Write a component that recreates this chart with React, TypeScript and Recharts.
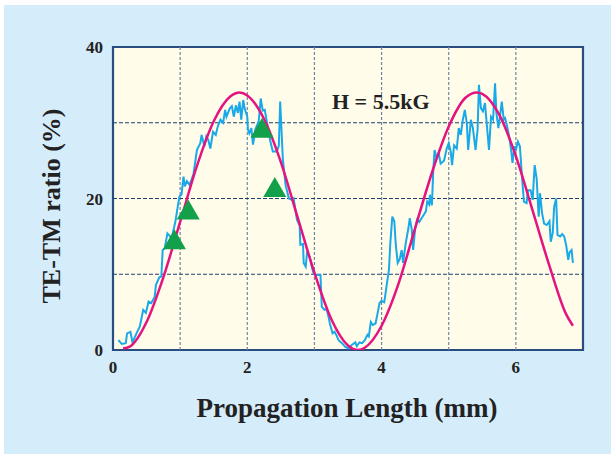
import { ComposedChart, Line, Scatter, XAxis, YAxis, ReferenceLine, ReferenceArea } from 'recharts'

// measured trace (cyan)
const measuredX = [
  0.08, 0.13, 0.19, 0.21, 0.26, 0.29, 0.35, 0.40, 0.45, 0.49, 0.53, 0.57, 0.62, 0.64, 0.69, 0.72, 0.74, 0.77, 0.81, 0.85,
  0.87, 0.93, 0.96, 0.99, 1.02, 1.05, 1.07, 1.10, 1.14, 1.17, 1.20, 1.25, 1.30, 1.32, 1.36, 1.39, 1.42, 1.45, 1.49, 1.53,
  1.56, 1.60, 1.64, 1.67, 1.69, 1.74, 1.77, 1.80, 1.83, 1.86, 1.885, 1.91, 1.94, 1.96, 2.00, 2.01, 2.03, 2.06, 2.085, 2.12,
  2.17, 2.20, 2.23, 2.26, 2.29, 2.34, 2.38, 2.44, 2.47, 2.49, 2.53, 2.57, 2.62, 2.67, 2.69, 2.74, 2.78, 2.79, 2.83, 2.84,
  2.87, 2.89, 2.93, 2.96, 2.99, 3.04, 3.09, 3.11, 3.15, 3.18, 3.21, 3.23, 3.27, 3.30, 3.33, 3.36, 3.41, 3.46, 3.51, 3.56,
  3.61, 3.63, 3.67, 3.71, 3.75, 3.79, 3.81, 3.84, 3.87, 3.91, 3.94, 3.97, 4.00, 4.04, 4.08, 4.11, 4.13, 4.16, 4.19, 4.21,
  4.24, 4.27, 4.30, 4.32, 4.36, 4.40, 4.42, 4.45, 4.47, 4.50, 4.53, 4.56, 4.61, 4.66, 4.68, 4.71, 4.72, 4.75, 4.77, 4.79,
  4.82, 4.85, 4.88, 4.93, 4.97, 5.00, 5.03, 5.05, 5.08, 5.12, 5.15, 5.18, 5.21, 5.24, 5.27, 5.29, 5.33, 5.36, 5.40, 5.43,
  5.45, 5.48, 5.51, 5.54, 5.57, 5.60, 5.63, 5.66, 5.69, 5.71, 5.74, 5.77, 5.79, 5.82, 5.84, 5.87, 5.90, 5.93, 5.95, 5.98,
  6.00, 6.03, 6.06, 6.09, 6.12, 6.16, 6.18, 6.22, 6.25, 6.28, 6.31, 6.34, 6.36, 6.39, 6.42, 6.46, 6.50, 6.52, 6.55, 6.57,
  6.60, 6.62, 6.66, 6.69, 6.72, 6.75, 6.78, 6.80, 6.83, 6.85,
]
const measuredY = [
  1.3, 0.8, 0.9, 2.2, 2.4, 1.0, 2.2, 3.1, 5.3, 4.9, 6.4, 6.2, 7.0, 8.6, 9.6, 9.7, 13.2, 13.4, 15.4, 15.0,
  14.6, 17.0, 18.7, 20.3, 20.5, 22.9, 21.6, 22.3, 21.8, 22.5, 23.3, 26.4, 27.3, 28.4, 26.9, 28.2, 27.7, 26.6, 28.8, 28.4,
  29.5, 30.4, 30.0, 31.7, 30.8, 31.9, 32.2, 30.8, 32.3, 31.3, 32.8, 30.4, 33.0, 31.9, 30.8, 29.1, 28.6, 29.3, 27.1, 29.1,
  30.2, 33.2, 31.6, 31.7, 30.2, 27.7, 26.2, 26.2, 27.0, 32.8, 25.1, 21.8, 20.0, 19.8, 20.0, 17.2, 16.4, 13.9, 14.0, 11.5,
  11.0, 12.8, 12.3, 11.0, 10.0, 9.9, 9.9, 5.7, 5.3, 5.4, 4.4, 3.5, 2.2, 2.4, 1.9, 1.3, 0.9, 0.4, 0.2, 0.7,
  1.0, 0.5, 1.0, 0.9, 1.3, 2.0, 1.8, 3.7, 3.3, 3.5, 4.8, 6.2, 6.5, 6.3, 8.8, 10.6, 14.1, 17.6, 17.0, 14.1,
  11.5, 12.0, 13.2, 11.5, 14.1, 16.1, 17.4, 15.9, 13.2, 16.0, 17.2, 16.9, 17.6, 18.3, 19.6, 19.2, 20.5, 19.1, 23.8, 26.4,
  25.3, 26.0, 24.6, 25.0, 26.6, 27.3, 26.2, 24.4, 27.0, 26.6, 29.3, 28.4, 30.4, 31.7, 29.9, 26.4, 30.4, 29.3, 26.4, 29.1,
  35.0, 31.9, 31.5, 32.6, 29.5, 26.4, 30.8, 30.4, 35.2, 31.3, 29.3, 31.3, 32.8, 30.4, 30.6, 29.5, 28.2, 26.4, 24.7, 26.9,
  26.4, 27.5, 26.9, 23.0, 19.6, 19.4, 21.1, 21.1, 19.8, 24.4, 22.6, 17.6, 20.7, 18.1, 16.7, 16.5, 17.0, 14.3, 15.5, 18.9,
  20.0, 15.2, 15.0, 15.3, 15.0, 13.8, 11.9, 12.9, 13.2, 11.5,
]

// fitted curve (magenta)
const fitX = [0.15, 0.25, 0.5, 0.75, 1.0, 1.25, 1.5, 1.75, 1.885, 2.0, 2.25, 2.5, 2.75, 3.0, 3.25, 3.5, 3.65, 3.75, 4.0, 4.25, 4.5, 4.75, 5.0, 5.25, 5.42, 5.5, 5.75, 6.0, 6.25, 6.5, 6.75, 6.85]
const fitY = [0.2, 0.45, 3.7, 9.6, 16.9, 24.3, 30.2, 33.5, 34.0, 33.6, 30.5, 24.8, 17.5, 10.2, 4.1, 0.6, 0.0, 0.3, 3.2, 8.7, 16.1, 23.4, 29.5, 33.3, 34.0, 33.8, 31.1, 25.6, 18.4, 11.1, 4.7, 3.2]

// green triangles
const markerX = [0.915, 1.12, 2.22, 2.41]
const markerY = [14.5, 18.4, 29.2, 21.4]

const xTicks = [0, 1, 2, 3, 4, 5, 6, 7]
const yTicks = [0, 10, 20, 30, 40]
const xGrid = [1, 2, 3, 4, 5, 6]
const yGrid = [10, 20, 30]

const measured = measuredX.map((x, i) => ({ x, y: measuredY[i] }))
const fit = fitX.map((x, i) => ({ x, y: fitY[i] }))
const markers = markerX.map((x, i) => ({ x, y: markerY[i] }))

const serif = '"Liberation Serif", "Times New Roman", serif'

const Triangle = (props: any) => {
  const { cx, cy } = props
  if (cx == null || cy == null) return null
  return <polygon points={`${cx},${cy - 11} ${cx - 11.5},${cy + 9} ${cx + 11.5},${cy + 9}`} fill="#12a04a" />
}

export default function App() {
  return (
    <div style={{ position: 'fixed', left: 0, top: 0, width: 611, height: 454, background: '#ffffff', overflow: 'hidden' }}>
      <div style={{ position: 'absolute', left: 4, top: 5, right: 0, bottom: 0, background: '#d5ecfa' }} />
      <div style={{ position: 'absolute', left: 0, top: 0 }}>
        <ComposedChart width={611} height={454} margin={{ top: 47, right: 28, left: 53, bottom: 74 }}>
          <XAxis
            type="number"
            dataKey="x"
            domain={[0, 7]}
            ticks={xTicks}
            tickFormatter={(v: number) => (v % 2 === 0 && v < 7 ? String(v) : '')}
            height={30}
            axisLine={false}
            tickLine={false}
            tickSize={0}
            tickMargin={11}
            tick={{ fontFamily: serif, fontWeight: 'bold', fontSize: 17, fill: '#222' }}
            allowDataOverflow
          />
          <YAxis
            type="number"
            dataKey="y"
            domain={[0, 40]}
            ticks={yTicks}
            tickFormatter={(v: number) => (v % 20 === 0 ? String(v) : '')}
            width={60}
            axisLine={false}
            tickLine={false}
            tickSize={0}
            tickMargin={10}
            tick={{ fontFamily: serif, fontWeight: 'bold', fontSize: 17, fill: '#222' }}
            allowDataOverflow
          />
          <ReferenceArea x1={0} x2={7} y1={0} y2={40} fill="#fffcea" fillOpacity={1} stroke="none" />
          {xGrid.map(v => (
            <ReferenceLine key={'vx' + v} x={v} stroke="#6f86a0" strokeWidth={1.2} strokeDasharray="3 2" />
          ))}
          {yGrid.map(v => (
            <ReferenceLine key={'hy' + v} y={v} stroke="#1f3f6e" strokeWidth={1.2} strokeDasharray="4 2" />
          ))}
          <Line data={measured} dataKey="y" type="linear" stroke="#1aa9e8" strokeWidth={2} dot={false} isAnimationActive={false} />
          <Line data={fit} dataKey="y" type="monotone" stroke="#e5137f" strokeWidth={2.5} dot={false} isAnimationActive={false} />
          <Scatter data={markers} dataKey="y" shape={Triangle} isAnimationActive={false} />
          <ReferenceArea x1={0} x2={7} y1={0} y2={40} fill="none" stroke="#2a4d80" strokeWidth={2.2} />
        </ComposedChart>
      </div>
      <div style={{ position: 'absolute', left: 332, top: 90, fontFamily: serif, fontWeight: 'bold', fontSize: 22, color: '#222', whiteSpace: 'nowrap', lineHeight: '24px' }}>
        H = 5.5kG
      </div>
      <div style={{ position: 'absolute', left: 347, top: 408, transform: 'translate(-50%, -50%)', fontFamily: serif, fontWeight: 'bold', fontSize: 27, color: '#222', whiteSpace: 'nowrap' }}>
        Propagation Length (mm)
      </div>
      <div style={{ position: 'absolute', left: 52, top: 206, transform: 'translate(-50%, -50%) rotate(-90deg)', fontFamily: serif, fontWeight: 'bold', fontSize: 26, color: '#222', whiteSpace: 'nowrap' }}>
        TE-TM ratio (%)
      </div>
    </div>
  )
}
